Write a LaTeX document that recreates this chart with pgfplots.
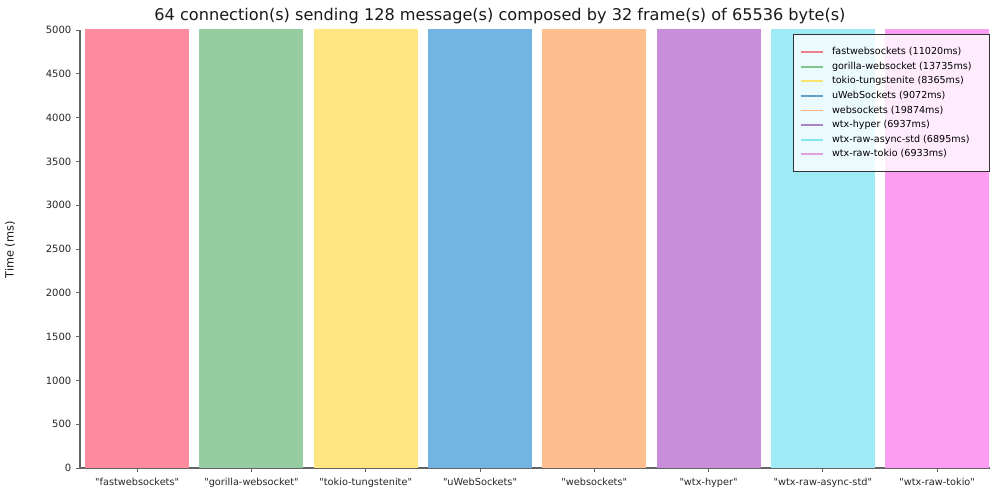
\documentclass[border=0pt]{standalone}
\usepackage{fontspec}
\setmainfont{DejaVu Sans}[Ligatures=TeXOff]
\usepackage{pgfplots}
\pgfplotsset{compat=1.18}
\definecolor{barA}{RGB}{255,140,158}
\definecolor{barB}{RGB}{150,205,160}
\definecolor{barC}{RGB}{255,230,128}
\definecolor{barD}{RGB}{114,180,226}
\definecolor{barE}{RGB}{255,190,143}
\definecolor{barF}{RGB}{201,142,218}
\definecolor{barG}{RGB}{158,234,245}
\definecolor{barH}{RGB}{252,156,242}
\definecolor{legA}{RGB}{240,128,135}
\definecolor{legB}{RGB}{130,195,140}
\definecolor{legC}{RGB}{250,228,110}
\definecolor{legD}{RGB}{100,160,200}
\definecolor{legE}{RGB}{255,180,130}
\definecolor{legF}{RGB}{170,130,200}
\definecolor{legG}{RGB}{130,230,245}
\definecolor{legH}{RGB}{225,160,220}
\definecolor{axgray}{RGB}{100,100,100}
\begin{document}
\begin{tikzpicture}[x=1pt,y=1pt]
\path[use as bounding box] (0,0) rectangle (750,375);
\node[font=\fontsize{12.1}{14}\selectfont, text=black!90] at (375,363) {64 connection(s) sending 128 message(s) composed by 32 frame(s) of 65536 byte(s)};
\node[font=\fontsize{8.5}{10}\selectfont, rotate=90, text=black!90] at (7.5,187.5) {Time (ms)};
\begin{axis}[
  at={(60pt,24pt)}, anchor=south west,
  scale only axis, width=682.7pt, height=328.5pt,
  xmin=-0.5, xmax=7.465, ymin=0, ymax=5000,
  axis lines*=left,
  axis line style={axgray, line width=0.8pt},
  tick style={axgray, line width=0.6pt},
  tick align=outside, major tick length=3pt,
  xtick={0,...,7},
  xticklabels={"fastwebsockets","gorilla-websocket","tokio-tungstenite","uWebSockets","websockets","wtx-hyper","wtx-raw-async-std","wtx-raw-tokio"},
  ytick={0,500,...,5000},
  yticklabel style={font=\fontsize{7.5}{8}\selectfont, text=black!85},
  xticklabel style={font=\fontsize{7.3}{8}\selectfont, text=black!85, yshift=-1pt},
  /pgf/number format/assume math mode=true,
  /pgf/number format/1000 sep={},
  legend cell align=left,
  legend image code/.code={\draw[#1, line width=1.4pt] (0pt,0pt) -- (16.5pt,0pt); \path[draw=none] (0pt,0pt) -- (21.5pt,0pt);},
  legend style={at={(0.9995,0.9905)}, anchor=north east, draw=black!80, line width=0.7pt,
    fill=white, fill opacity=0.8, text opacity=1,
    font=\fontsize{7.2}{8}\selectfont, row sep=0pt, inner xsep=5pt, inner ysep=7.5pt},
]
\addplot[ybar, bar width=0.91, bar shift=0pt, fill=barA, draw=none, forget plot] coordinates {(0,11020)};
\addplot[ybar, bar width=0.91, bar shift=0pt, fill=barB, draw=none, forget plot] coordinates {(1,13735)};
\addplot[ybar, bar width=0.91, bar shift=0pt, fill=barC, draw=none, forget plot] coordinates {(2,8365)};
\addplot[ybar, bar width=0.91, bar shift=0pt, fill=barD, draw=none, forget plot] coordinates {(3,9072)};
\addplot[ybar, bar width=0.91, bar shift=0pt, fill=barE, draw=none, forget plot] coordinates {(4,19874)};
\addplot[ybar, bar width=0.91, bar shift=0pt, fill=barF, draw=none, forget plot] coordinates {(5,6937)};
\addplot[ybar, bar width=0.91, bar shift=0pt, fill=barG, draw=none, forget plot] coordinates {(6,6895)};
\addplot[ybar, bar width=0.91, bar shift=0pt, fill=barH, draw=none, forget plot] coordinates {(7,6933)};
\addlegendimage{draw=legA}
\addlegendentry{fastwebsockets (11020ms)}
\addlegendimage{draw=legB}
\addlegendentry{\makebox[111pt][l]{gorilla-websocket (13735ms)}}
\addlegendimage{draw=legC}
\addlegendentry{tokio-tungstenite (8365ms)}
\addlegendimage{draw=legD}
\addlegendentry{uWebSockets (9072ms)}
\addlegendimage{draw=legE}
\addlegendentry{websockets (19874ms)}
\addlegendimage{draw=legF}
\addlegendentry{wtx-hyper (6937ms)}
\addlegendimage{draw=legG}
\addlegendentry{wtx-raw-async-std (6895ms)}
\addlegendimage{draw=legH}
\addlegendentry{wtx-raw-tokio (6933ms)}
\end{axis}
\end{tikzpicture}
\end{document}
